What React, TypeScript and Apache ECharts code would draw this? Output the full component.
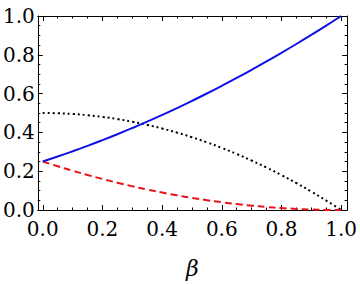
import React, { useEffect, useRef } from "react";
import * as echarts from "echarts";

const betaValues = [0, 0.05, 0.1, 0.15, 0.2, 0.25, 0.3, 0.35, 0.4, 0.45, 0.5, 0.55, 0.6, 0.65, 0.7, 0.75, 0.8, 0.85, 0.9, 0.95, 1];
const blueValues = [0.25, 0.2756, 0.3025, 0.3306, 0.36, 0.3906, 0.4225, 0.4556, 0.49, 0.5256, 0.5625, 0.6006, 0.64, 0.6806, 0.7225, 0.7656, 0.81, 0.8556, 0.9025, 0.9506, 1.0];
const blackValues = [0.5, 0.4988, 0.495, 0.4888, 0.48, 0.4688, 0.455, 0.4388, 0.42, 0.3988, 0.375, 0.3488, 0.32, 0.2888, 0.255, 0.2188, 0.18, 0.1388, 0.095, 0.0488, 0];
const redValues = [0.25, 0.2256, 0.2025, 0.1806, 0.16, 0.1406, 0.1225, 0.1056, 0.09, 0.0756, 0.0625, 0.0506, 0.04, 0.0306, 0.0225, 0.0156, 0.01, 0.0056, 0.0025, 0.0006, 0];
const xMajorTicks = [0, 0.2, 0.4, 0.6, 0.8, 1.0];
const xMinorTicks = [0.05, 0.1, 0.15, 0.25, 0.3, 0.35, 0.45, 0.5, 0.55, 0.65, 0.7, 0.75, 0.85, 0.9, 0.95];
const xAxisName = "β";

const FONT = "DejaVu Serif";
const FS = 20;
const XMIN = -0.0166;
const XMAX = 1.02;

export default function App() {
  const ref = useRef<HTMLDivElement>(null);
  useEffect(() => {
    if (!ref.current) return;
    const chart = echarts.init(ref.current, null, { renderer: "svg" });
    const pair = (ys: number[]) => betaValues.map((b, i) => [b, ys[i]]);
    const baseX = (position: string, ticks: number[], len: number, showLine: boolean, labels: boolean) => ({
      type: "value",
      position,
      min: XMIN,
      max: XMAX,
      axisLine: { show: showLine, onZero: false, lineStyle: { color: "#000", width: 1 } },
      axisTick: { show: true, inside: true, length: len, customValues: ticks, lineStyle: { color: "#000", width: 1 } },
      axisLabel: labels
        ? { show: true, customValues: xMajorTicks, fontFamily: FONT, fontSize: FS, color: "#000", margin: 9, formatter: (v: number) => v.toFixed(1) }
        : { show: false },
      splitLine: { show: false },
    });
    const baseY = (position: string, labels: boolean) => ({
      type: "value",
      position,
      min: 0,
      max: 1,
      interval: 0.2,
      axisLine: { show: true, onZero: false, lineStyle: { color: "#000", width: 1 } },
      axisTick: { show: true, inside: true, length: 5, lineStyle: { color: "#000", width: 1 } },
      minorTick: { show: true, splitNumber: 4, length: 2.5, lineStyle: { color: "#000", width: 1 } },
      axisLabel: labels
        ? { show: true, fontFamily: FONT, fontSize: FS, color: "#000", margin: 3, formatter: (v: number) => v.toFixed(1) }
        : { show: false },
      splitLine: { show: false },
      minorSplitLine: { show: false },
    });
    chart.setOption({
      animation: false,
      backgroundColor: "#fff",
      textStyle: { fontFamily: FONT },
      grid: { left: 36, top: 16, right: 11, bottom: 74, containLabel: false },
      xAxis: [
        {
          ...baseX("bottom", xMajorTicks, 5, true, true),
          name: xAxisName,
          nameLocation: "middle",
          nameGap: 47,
          nameTextStyle: { fontFamily: FONT, fontSize: 22, fontStyle: "italic", color: "#000" },
        },
        baseX("bottom", xMinorTicks, 2.5, false, false),
        baseX("top", xMajorTicks, 5, true, false),
        baseX("top", xMinorTicks, 2.5, false, false),
      ],
      yAxis: [baseY("left", true), baseY("right", false)],
      series: [
        {
          type: "line",
          data: pair(blackValues),
          smooth: true,
          symbol: "none",
          lineStyle: { color: "#000", width: 2, type: [2, 3] },
        },
        {
          type: "line",
          data: pair(redValues),
          smooth: true,
          symbol: "none",
          lineStyle: { color: "#e8141a", width: 2, type: [7, 4] },
        },
        {
          type: "line",
          data: pair(blueValues),
          smooth: true,
          symbol: "none",
          lineStyle: { color: "#1010e8", width: 2, type: "solid" },
        },
      ],
    });
    return () => chart.dispose();
  }, []);
  return <div ref={ref} style={{ width: 360, height: 284, position: "absolute", left: 0, top: 0 }} />;
}
